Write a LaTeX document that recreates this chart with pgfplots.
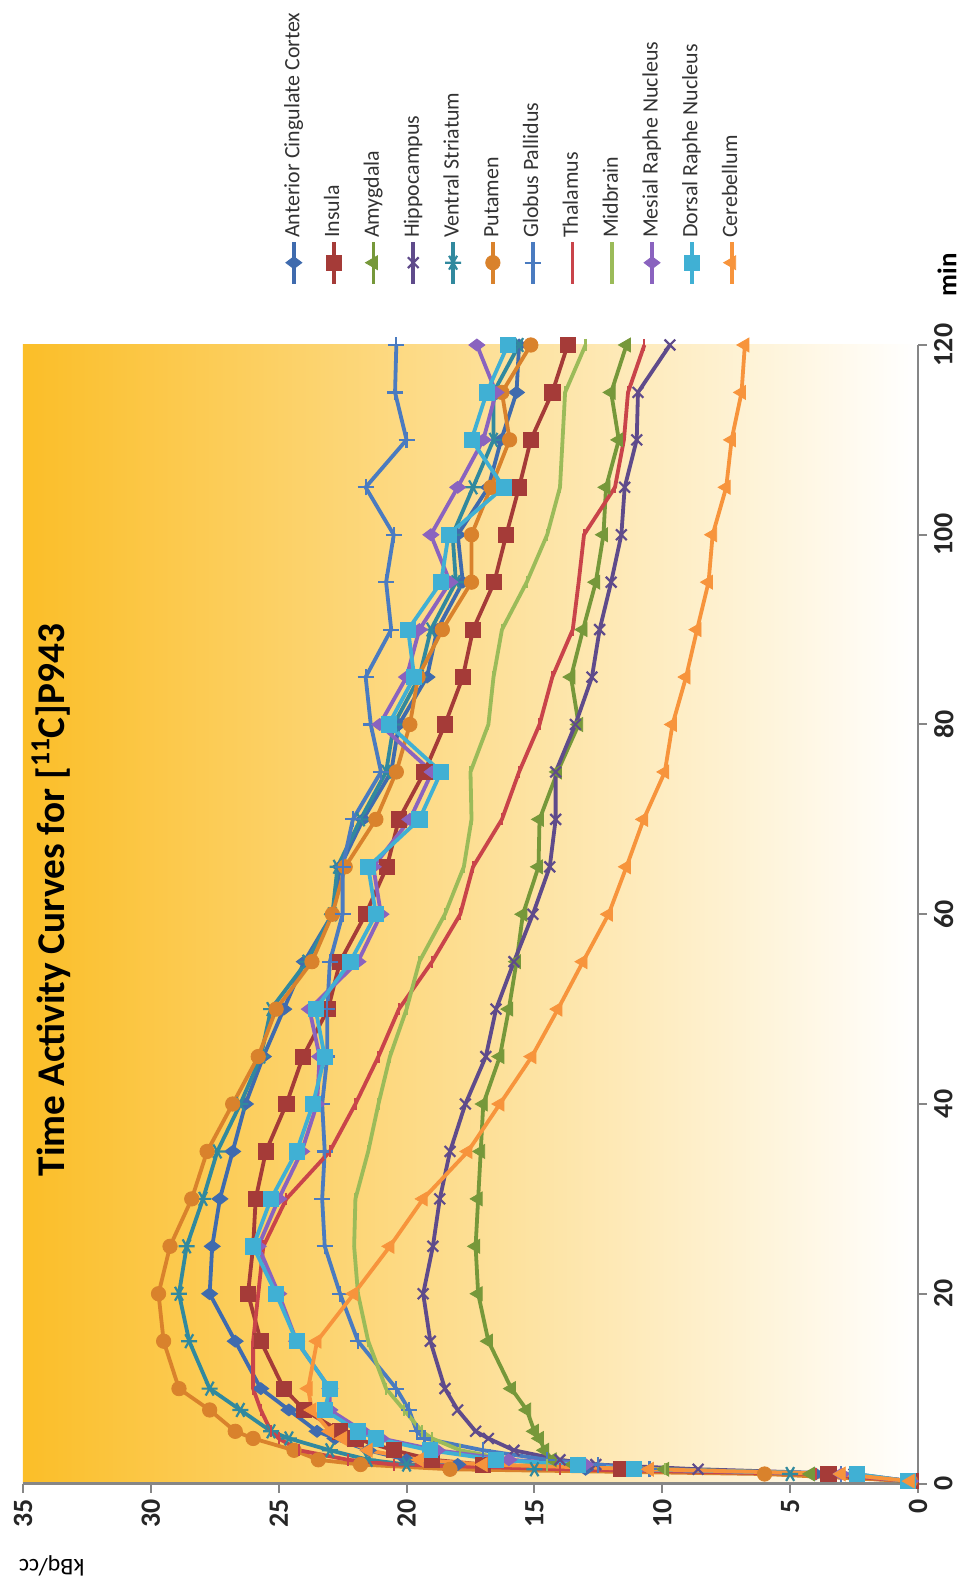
\documentclass[border=0pt]{standalone}
\usepackage{fontspec}
\setmainfont{Carlito}
\usepackage{graphicx}
\usepackage{pgfplots}
\pgfplotsset{compat=1.18}
\usepackage{pgfplotstable}

\definecolor{cacc}{HTML}{3F6BAE}
\definecolor{cins}{HTML}{A53B38}
\definecolor{camy}{HTML}{76983A}
\definecolor{chip}{HTML}{5F4B8B}
\definecolor{cvs}{HTML}{31899E}
\definecolor{cput}{HTML}{D9822C}
\definecolor{cgp}{HTML}{4A7BC0}
\definecolor{ctha}{HTML}{C9444A}
\definecolor{cmid}{HTML}{9BBB59}
\definecolor{cmrn}{HTML}{8A63BF}
\definecolor{cdrn}{HTML}{40B0D4}
\definecolor{ccer}{HTML}{F7943C}
\definecolor{axgray}{HTML}{868686}

\pgfplotstableread{
t acc ins amy hip vs put gp tha mid mrn drn cer
0.25 0.3 0.3 0.3 0.3 0.3 0.3 0.3 0.3 0.3 0.3 0.4 0.3
1 4.0 3.5 4.2 2.5 5.0 6.0 3.0 4.0 3.0 3.0 2.4 3.0
1.5 13.0 11.6 9.9 8.6 15.0 18.3 10.5 14.0 9.9 11.0 11.1 10.5
2 18.0 17.0 13.5 12.6 20.0 21.8 12.5 20.5 14.5 13.0 13.3 17.0
2.5 20.0 19.0 14.3 14.0 21.5 23.45 14.5 22.3 16.0 16.0 16.5 19.5
3.5 21.5 20.5 14.6 15.8 23.0 24.4 17.0 24.2 17.9 18.8 19.1 21.5
4.75 22.8 22.0 14.8 16.8 24.6 26.0 19.3 25.0 19.0 21.0 21.2 22.5
5.5 23.5 22.6 15.0 17.3 25.3 26.7 19.6 25.3 19.4 21.7 21.9 23.0
7.75 24.6 24.0 15.3 18.0 26.5 27.7 19.9 25.7 20.1 23.0 23.2 23.7
10 25.7 24.8 15.9 18.5 27.7 28.9 20.4 26.0 20.8 23.0 23.0 23.85
15 26.7 25.7 16.8 19.07 28.5 29.5 21.9 26.0 21.5 24.3 24.3 23.5
20 27.7 26.2 17.2 19.35 28.9 29.7 22.6 25.8 21.9 25.0 25.1 22.06
25 27.6 26.0 17.3 18.97 28.6 29.25 23.2 25.6 22.05 25.8 26.0 20.65
30 27.3 25.9 17.2 18.7 27.96 28.4 23.3 24.7 22.0 25.0 25.3 19.35
35 26.8 25.5 17.1 18.3 27.4 27.8 23.2 23.0 21.5 24.1 24.3 17.6
40 26.3 24.7 17.0 17.7 26.5 26.8 23.3 22.0 21.1 23.5 23.66 16.35
45 25.6 24.05 16.35 16.9 25.7 25.8 23.1 21.1 20.65 23.4 23.2 15.1
50 24.8 23.07 16.0 16.5 25.3 25.1 23.1 20.3 20.0 23.8 23.56 14.08
55 24.0 22.6 15.7 15.8 23.9 23.7 23.0 19.0 19.5 21.9 22.2 13.1
60 22.9 21.6 15.45 15.06 22.9 22.9 22.5 17.9 18.5 21.0 21.2 12.1
65 22.6 20.77 14.84 14.4 22.7 22.4 22.5 17.4 17.76 21.3 21.5 11.4
70 21.7 20.3 14.8 14.17 21.8 21.2 22.1 16.27 17.46 19.87 19.5 10.73
75 20.6 19.3 14.1 14.17 20.8 20.4 21.0 15.6 17.5 19.0 18.65 9.9
80 20.3 18.5 13.27 13.4 20.5 19.87 21.4 14.8 16.8 21.05 20.7 9.6
85 19.2 17.8 13.57 12.75 19.5 19.55 21.6 14.3 16.6 20.0 19.7 9.07
90 18.8 17.4 13.1 12.45 19.05 18.6 20.6 13.5 16.27 19.5 19.94 8.64
95 17.8 16.57 12.6 12.0 18.07 17.46 20.8 13.27 15.3 18.3 18.65 8.19
100 18.0 16.1 12.3 11.6 18.2 17.46 20.5 13.06 14.5 19.05 18.36 8.03
105 16.8 15.6 12.2 11.47 17.4 16.7 21.6 11.85 14.0 18.0 16.2 7.5
110 16.3 15.14 11.7 11.0 16.6 15.97 20.0 11.5 13.9 17.0 17.46 7.29
115 15.7 14.3 12.0 10.95 16.6 16.27 20.45 11.34 13.8 16.5 16.86 6.9
120 15.6 13.7 11.4 9.7 15.6 15.14 20.4 10.7 13.0 17.25 16.04 6.77
}\tacdata

\begin{document}
\rotatebox{90}{%
\begin{tikzpicture}
\begin{axis}[name=ax,
  scale only axis, width=569.25bp, height=447.5bp,
  xmin=0, xmax=120, ymin=0, ymax=35, enlargelimits=false,
  axis lines*=left,
  axis line style={draw=axgray, line width=1.2bp},
  xtick={0,20,...,120}, ytick={0,5,...,35},
  tick align=outside, major tick length=4.5bp,
  tick style={draw=axgray, line width=1bp},
  /pgf/number format/assume math mode=true,
  ticklabel style={font=\bfseries\fontsize{14}{16}\selectfont, text=black!85},
  xlabel={\textbf{min}},
  xlabel style={at={(axis description cs:1.0615,-0.0324)}, anchor=center, font=\bfseries\fontsize{13.5}{15}\selectfont},
  ylabel={kBq/cc},
  ylabel style={at={(axis description cs:-0.0725,0.968)}, anchor=center, font=\fontsize{12}{14}\selectfont},
  title={Time Activity Curves for [\textsuperscript{11}C]P943},
  title style={at={(axis description cs:0.5125,0.9553)}, anchor=center, font=\bfseries\fontsize{19.7}{22}\selectfont},
  axis background/.style={shade, top color={rgb,255:red,251;green,190;blue,40}, middle color={rgb,255:red,252;green,214;blue,165}, bottom color=white},
  every axis plot/.append style={line width=1.9bp},
  legend image code/.code={\draw[mark repeat=2, mark phase=2, #1] plot coordinates {(0bp,0bp) (10.5bp,0bp) (21bp,0bp)};},
  legend style={at={(axis description cs:1,1)}, anchor=north west, xshift=26.5bp, yshift=-127bp,
    draw=none, fill=none, font=\fontsize{11}{13}\selectfont, text=black!80,
    row sep=7.4bp, nodes={inner sep=1bp, text height=8bp, text depth=2.5bp}},
  legend cell align=left,
]
\addplot[color=cacc, mark=diamond*, mark size=4bp, mark options={solid, line width=0.4bp}] table[x=t, y=acc] {\tacdata};
\addlegendentry{Anterior Cingulate Cortex}
\addplot[color=cins, mark=square*, mark size=3.8bp, mark options={solid, line width=0.4bp}] table[x=t, y=ins] {\tacdata};
\addlegendentry{Insula}
\addplot[color=camy, mark=triangle*, mark size=4bp, mark options={solid, line width=0.4bp}] table[x=t, y=amy] {\tacdata};
\addlegendentry{Amygdala}
\addplot[color=chip, mark=x, mark size=3.8bp, mark options={solid, line width=1.1bp}] table[x=t, y=hip] {\tacdata};
\addlegendentry{Hippocampus}
\addplot[color=cvs, mark=asterisk, mark size=4bp, mark options={solid, line width=1.1bp}] table[x=t, y=vs] {\tacdata};
\addlegendentry{Ventral Striatum}
\addplot[color=cput, mark=*, mark size=3.6bp, mark options={solid, line width=0.4bp}] table[x=t, y=put] {\tacdata};
\addlegendentry{Putamen}
\addplot[color=cgp, mark=+, mark size=4bp, mark options={solid, line width=1.1bp}] table[x=t, y=gp] {\tacdata};
\addlegendentry{Globus Pallidus}
\addplot[color=ctha, mark=-, mark size=3bp, mark options={solid, line width=1.1bp}] table[x=t, y=tha] {\tacdata};
\addlegendentry{Thalamus}
\addplot[color=cmid, mark=-, mark size=3bp, mark options={solid, line width=1.1bp}] table[x=t, y=mid] {\tacdata};
\addlegendentry{Midbrain}
\addplot[color=cmrn, mark=diamond*, mark size=4bp, mark options={solid, line width=0.4bp}] table[x=t, y=mrn] {\tacdata};
\addlegendentry{Mesial Raphe Nucleus}
\addplot[color=cdrn, mark=square*, mark size=3.8bp, mark options={solid, line width=0.4bp}] table[x=t, y=drn] {\tacdata};
\addlegendentry{Dorsal Raphe Nucleus}
\addplot[color=ccer, mark=triangle*, mark size=4bp, mark options={solid, line width=0.4bp}] table[x=t, y=cer] {\tacdata};
\addlegendentry{Cerebellum}
\end{axis}
\pgfresetboundingbox
\path ([xshift=-48.25bp,yshift=-25bp]ax.south west) rectangle ([xshift=172.5bp,yshift=11.5bp]ax.north east);
\end{tikzpicture}%
}
\end{document}
